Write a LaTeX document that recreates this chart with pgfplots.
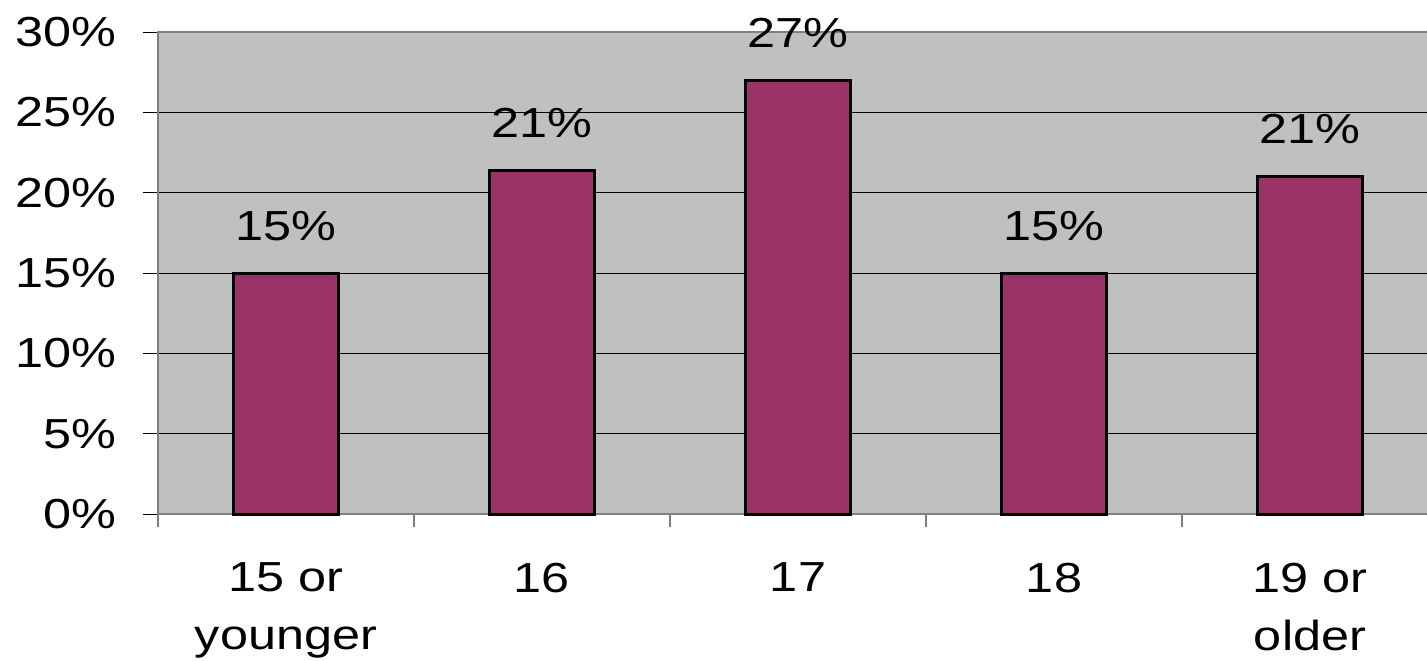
\documentclass[border=0pt]{standalone}
\usepackage{pgfplots}
\pgfplotsset{compat=1.18}
\usepackage{fontspec}
\setmainfont{Liberation Sans}[FakeStretch=1.2]

\definecolor{plotbg}{HTML}{C0C0C0}
\definecolor{barfill}{HTML}{993366}
\definecolor{frame}{HTML}{808080}

\pgfplotstableread{
idx share
0 15.0
1 21.4
2 27.0
3 15.0
4 21.0
}\agedata

\begin{document}
\begin{tikzpicture}
\begin{axis}[
  name=ax,
  scale only axis,
  width=640pt, height=241pt,
  xmin=-0.5, xmax=4.5,
  ymin=0, ymax=30,
  axis background/.style={fill=plotbg},
  axis line style={draw=frame, line width=1.2pt},
  tick align=outside,
  xtick pos=bottom, ytick pos=left,
  xtick={0,1,2,3,4},
  xticklabels={{15 or\\younger},16,17,18,{19 or\\older}},
  major x tick style={draw=none},
  minor xtick={-0.5,0.5,1.5,2.5,3.5},
  minor x tick style={draw=frame, line width=0.8pt},
  minor tick length=6.5pt,
  ytick={0,5,10,15,20,25,30},
  yticklabels={0\%,5\%,10\%,15\%,20\%,25\%,30\%},
  major y tick style={draw=black, line width=0.5pt},
  major tick length=7.5pt,
  ymajorgrids,
  grid style={black, line width=0.5pt},
  ticklabel style={font=\fontsize{21}{29}\selectfont},
  yticklabel style={anchor=east, xshift=-10pt},
  xticklabel style={align=center, anchor=north, yshift=-13.5pt},
  /pgf/number format/assume math mode=true,
  ybar,
  bar width=52.5pt,
  nodes near coords={\pgfmathprintnumber[fixed,precision=0]{\pgfplotspointmeta}\%},
  every node near coord/.append style={anchor=base, yshift=16.5pt,
    font=\fontsize{21}{25}\selectfont, black},
  clip=false,
]
\addplot[fill=barfill, draw=black, line width=1.5pt] table[x=idx, y=share] {\agedata};
\end{axis}
\pgfresetboundingbox
\path ([shift={(-79pt,-73pt)}]ax.south west) rectangle ([shift={(-5.5pt,16pt)}]ax.north east);
\end{tikzpicture}
\end{document}
